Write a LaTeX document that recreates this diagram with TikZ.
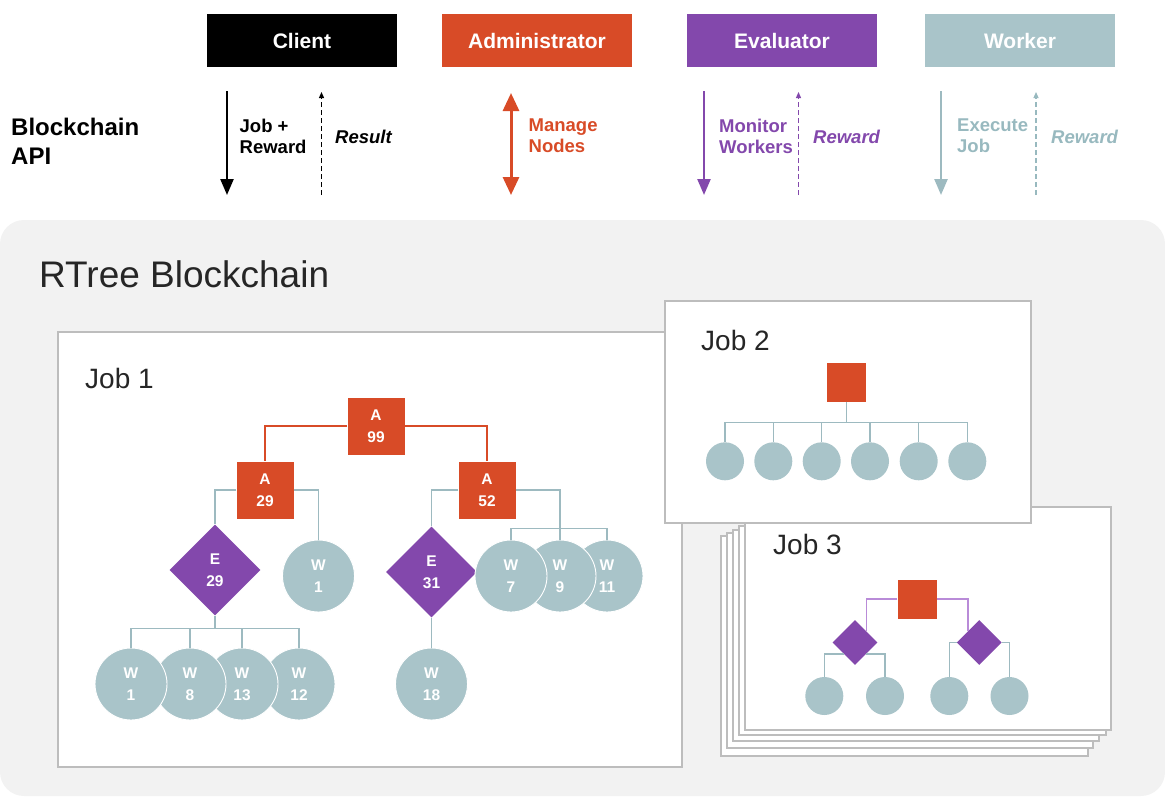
\documentclass[tikz,border=0pt]{standalone}
\usepackage{fontspec}
\setmainfont{Liberation Sans}
\usetikzlibrary{arrows.meta,shapes.geometric,calc}

\definecolor{admc}{HTML}{D84B27}
\definecolor{evlc}{HTML}{8348AC}
\definecolor{wrkc}{HTML}{A9C4C9}
\definecolor{wrkline}{HTML}{9DBAC0}
\definecolor{wrktext}{HTML}{98B9BF}
\definecolor{evlline}{HTML}{B98BD8}
\definecolor{panelc}{HTML}{F2F2F2}
\definecolor{boxline}{HTML}{BDBDBD}

\begin{document}
\begin{tikzpicture}[x=1pt,y=-1pt,
  role/.style={minimum width=190pt,minimum height=53pt,inner sep=0pt,text=white,
    font=\fontsize{21}{25}\selectfont\bfseries},
  apilabel/.style={anchor=west,inner sep=0pt,align=left,
    font=\fontsize{18.5}{21}\selectfont\bfseries},
  apiret/.style={anchor=west,inner sep=0pt,
    font=\fontsize{18.5}{21}\selectfont\bfseries\itshape},
  callarrow/.style={line width=2.4pt,-{Triangle[width=13pt,length=16pt]}},
  retarrow/.style={line width=1.2pt,dash pattern=on 5pt off 3pt,
    -{Triangle[width=5pt,length=6pt]}},
  jobbox/.style={draw=boxline,line width=1.4pt,fill=white},
  jobtitle/.style={anchor=west,inner sep=0pt,font=\fontsize{28}{32}\selectfont,text=black!85},
  nodetext/.style={text=white,align=center,font=\fontsize{15.5}{22}\selectfont\bfseries},
  admnode/.style={rectangle,fill=admc,minimum size=57pt,inner sep=0pt,nodetext},
  evlnode/.style={diamond,fill=evlc,minimum width=91pt,minimum height=91pt,inner sep=0pt,nodetext},
  wrknode/.style={circle,fill=wrkc,draw=white,line width=0.9pt,minimum size=72pt,
    inner sep=0pt,nodetext},
  admsmall/.style={rectangle,fill=admc,minimum size=39pt,inner sep=0pt},
  evlsmall/.style={diamond,fill=evlc,minimum width=45pt,minimum height=45pt,inner sep=0pt},
  wrksmall/.style={circle,fill=wrkc,minimum size=38pt,inner sep=0pt},
  admedge/.style={draw=admc,line width=1.3pt},
  wrkedge/.style={draw=wrkline,line width=1.3pt},
  evledge/.style={draw=evlline,line width=1.3pt}]

\useasboundingbox (0,0) rectangle (1165,796);

% ---------- roles ----------
\node[role,fill=black] (client) at (302,40.5) {Client};
\node[role,fill=admc] (admin) at (537,40.5) {Administrator};
\node[role,fill=evlc] (eval) at (782,40.5) {Evaluator};
\node[role,fill=wrkc] (worker) at (1020,40.5) {Worker};

% ---------- blockchain API ----------
\node[anchor=west,inner sep=0pt,align=left,font=\fontsize{24}{29}\selectfont\bfseries]
  (api) at (11,141) {Blockchain\\API};

\coordinate (clTop) at (227,91);   \coordinate (clBot) at (227,195);
\coordinate (clrTop) at (321.5,92); \coordinate (clrBot) at (321.5,195);
\draw[callarrow,black] (clTop) -- (clBot);
\draw[retarrow,black] (clrBot) -- (clrTop);
\node[apilabel] (clJob) at (239.5,136) {Job +\\Reward};
\node[apiret] (clRes) at (335,137) {Result};

\coordinate (adTop) at (511,93); \coordinate (adBot) at (511,195);
\draw[admc,line width=3pt,{Triangle[width=16pt,length=18pt]}-{Triangle[width=16pt,length=18pt]}]
  (adTop) -- (adBot);
\node[apilabel,text=admc] (adLab) at (528.5,136) {Manage\\Nodes};

\coordinate (evTop) at (704,91);   \coordinate (evBot) at (704,195);
\coordinate (evrTop) at (798.5,92); \coordinate (evrBot) at (798.5,195);
\draw[callarrow,evlc] (evTop) -- (evBot);
\draw[retarrow,evlc] (evrBot) -- (evrTop);
\node[apilabel,text=evlc] (evLab) at (719,136) {Monitor\\Workers};
\node[apiret,text=evlc] (evRew) at (813,137) {Reward};

\coordinate (wkTop) at (941,91);   \coordinate (wkBot) at (941,195);
\coordinate (wkrTop) at (1036,92); \coordinate (wkrBot) at (1036,195);
\draw[callarrow,wrkline] (wkTop) -- (wkBot);
\draw[retarrow,wrktext] (wkrBot) -- (wkrTop);
\node[apilabel,text=wrktext] (wkLab) at (957,136) {Execute\\Job};
\node[apiret,text=wrktext] (wkRew) at (1051,137) {Reward};

% ---------- blockchain panel ----------
\fill[panelc,rounded corners=24pt] (0,220) rectangle (1165,796);
\node[anchor=base west,inner sep=0pt,font=\fontsize{37}{42}\selectfont,text=black!85]
  (rtree) at (39,287) {RTree Blockchain};

% job frames
\draw[jobbox] (58,332) rectangle (682,767);
\foreach \l/\r/\t/\b in {721/1088/536/756, 727/1093/533/748, 733/1099/530/741, 739/1106/526/735}
  \draw[jobbox] (\l,\t) rectangle (\r,\b);
\draw[jobbox] (745,507) rectangle (1111,730);
\draw[jobbox] (665,301) rectangle (1031,523);

\node[jobtitle] (j1t) at (85,378) {Job 1};
\node[jobtitle] (j2t) at (701,340) {Job 2};
\node[jobtitle] (j3t) at (773,544) {Job 3};

% ---------- job 1 tree ----------
\node[admnode] (a99) at (376,426) {A\\99};
\node[admnode] (a29) at (265,490) {A\\29};
\node[admnode] (a52) at (487,490) {A\\52};
\node[evlnode] (e29) at (215,570) {E\\29};
\node[evlnode] (e31) at (431.5,572) {E\\31};
\node[wrknode] (w1a) at (318.5,576) {W\\1};
\node[wrknode] (w18) at (431.5,684) {W\\18};
% overlapping workers, drawn right to left
\node[wrknode] (w11) at (607,576) {W\\11};
\node[wrknode] (w9)  at (560,576) {W\\9};
\node[wrknode] (w7)  at (511,576) {W\\7};
\node[wrknode] (wb12) at (299,684) {W\\12};
\node[wrknode] (wb13) at (242,684) {W\\13};
\node[wrknode] (wb8)  at (190,684) {W\\8};
\node[wrknode] (wb1)  at (131,684) {W\\1};

\draw[admedge] (a99.west) -| (a29.north);
\draw[admedge] (a99.east) -| (a52.north);
\draw[wrkedge] (a29.west) -| (e29.north);
\draw[wrkedge] (a29.east) -| (w1a.north);
\draw[wrkedge] (a52.west) -| (e31.north);
\draw[wrkedge] (a52.east) -| (w9.north);
\draw[wrkedge] (w7.north) -- ++(0,-11) -| (w11.north);
\draw[wrkedge] (e31.south) -- (w18.north);
\draw[wrkedge] (e29.south) -- ++(0,12.5) coordinate (e29bar);
\draw[wrkedge] (wb1.north) -- (wb1.north |- e29bar) -- (wb12.north |- e29bar) -- (wb12.north);
\draw[wrkedge] (wb8.north) -- (wb8.north |- e29bar);
\draw[wrkedge] (wb13.north) -- (wb13.north |- e29bar);

% ---------- job 2 tree ----------
\node[admsmall] (j2a) at (846.3,382) {};
\foreach \i/\x in {1/725,2/773.3,3/821.7,4/870,5/918.7,6/967.3}
  \node[wrksmall] (j2w\i) at (\x,461.3) {};
\draw[wrkedge] (j2a.south) -- ++(0,20.6) coordinate (j2bar);
\foreach \i in {1,...,6}
  \draw[wrkedge] (j2bar) -| (j2w\i.north);

% ---------- job 3 tree ----------
\node[admsmall] (j3a) at (917,599) {};
\node[evlsmall] (j3l) at (855,642.5) {};
\node[evlsmall] (j3r) at (979.2,642.5) {};
\node[wrksmall] (j3w1) at (824.3,696) {};
\node[wrksmall] (j3w2) at (885,696) {};
\node[wrksmall] (j3w3) at (949.3,696) {};
\node[wrksmall] (j3w4) at (1009.5,696) {};
\draw[evledge] (j3a.west) -| (j3l.north east);
\draw[evledge] (j3a.east) -| (j3r.north west);
\draw[wrkedge] (j3l.south west) -| (j3w1.north);
\draw[wrkedge] (j3l.south east) -| (j3w2.north);
\draw[wrkedge] (j3r.west) -| (j3w3.north);
\draw[wrkedge] (j3r.east) -| (j3w4.north);

\end{tikzpicture}
\end{document}
